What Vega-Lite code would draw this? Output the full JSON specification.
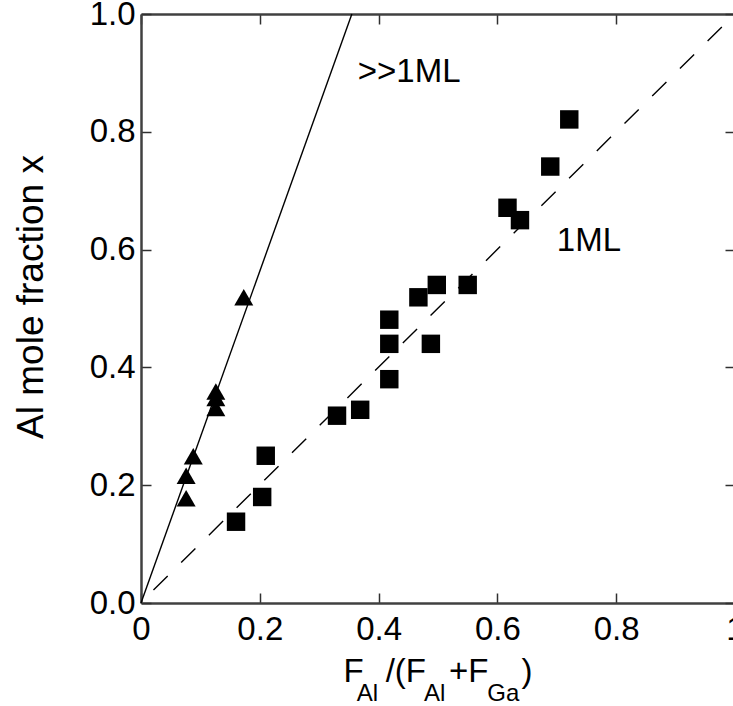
{
  "$schema": "https://vega.github.io/schema/vega-lite/v6.json",
  "width": 594,
  "height": 589,
  "autosize": {"type": "none"},
  "padding": {"left": 141, "top": 14, "right": 0, "bottom": 103},
  "background": "white",
  "config": {
    "view": {"stroke": null},
    "font": "Liberation Sans",
    "axis": {
      "grid": false,
      "domainColor": "#404040",
      "domainWidth": 2.5,
      "tickColor": "#303030",
      "tickWidth": 1.5,
      "tickSize": -10,
      "labelFont": "Liberation Sans",
      "labelFontSize": 33,
      "labelColor": "black",
      "labelFlush": false,
      "labelOverlap": false,
      "titleFont": "Liberation Sans",
      "titleColor": "black",
      "titleFontWeight": "normal"
    }
  },
  "datasets": {
    "squares": [
      {"x": 0.160, "y": 0.138},
      {"x": 0.204, "y": 0.180},
      {"x": 0.210, "y": 0.250},
      {"x": 0.330, "y": 0.318},
      {"x": 0.369, "y": 0.328},
      {"x": 0.418, "y": 0.380},
      {"x": 0.418, "y": 0.440},
      {"x": 0.418, "y": 0.481},
      {"x": 0.488, "y": 0.440},
      {"x": 0.467, "y": 0.519},
      {"x": 0.498, "y": 0.540},
      {"x": 0.550, "y": 0.540},
      {"x": 0.617, "y": 0.671},
      {"x": 0.638, "y": 0.650},
      {"x": 0.689, "y": 0.741},
      {"x": 0.721, "y": 0.821}
    ],
    "triangles": [
      {"x": 0.173, "y": 0.519},
      {"x": 0.126, "y": 0.359},
      {"x": 0.126, "y": 0.348},
      {"x": 0.126, "y": 0.331},
      {"x": 0.088, "y": 0.249},
      {"x": 0.076, "y": 0.216},
      {"x": 0.076, "y": 0.178}
    ],
    "steep": [{"x": 0, "y": 0}, {"x": 0.355, "y": 1}],
    "diag": [{"x": 0.021, "y": 0.022}, {"x": 1, "y": 1}],
    "notes": [
      {"x": 0.365, "y": 0.885, "text": ">>1ML"},
      {"x": 0.700, "y": 0.597, "text": "1ML"}
    ]
  },
  "title": {
    "text": "F\u2002\u2006/(F\u2002\u2009+F\u2003)\u2005",
    "subtitle": "Al\u2003\u2002\u2005\u2006Al\u2003\u2002\u2005Ga",
    "orient": "bottom",
    "anchor": "middle",
    "font": "Liberation Sans",
    "subtitleFont": "Liberation Sans",
    "fontSize": 33,
    "subtitleFontSize": 24,
    "fontWeight": "normal",
    "color": "black",
    "subtitleColor": "black",
    "subtitlePadding": -7,
    "offset": 10
  },
  "resolve": {"axis": {"x": "independent", "y": "independent"}},
  "layer": [
    {
      "data": {"name": "steep"},
      "mark": {"type": "line", "color": "black", "strokeWidth": 1.4},
      "encoding": {
        "x": {
          "field": "x", "type": "quantitative",
          "scale": {"domain": [0, 1], "nice": false, "zero": false},
          "axis": {
            "orient": "bottom",
            "values": [0, 0.2, 0.4, 0.6, 0.8, 1],
            "labelExpr": "datum.value == 0 ? '0' : datum.value == 1 ? '1' : format(datum.value, '.1f')",
            "labelPadding": 20,
            "title": null
          }
        },
        "y": {
          "field": "y", "type": "quantitative",
          "scale": {"domain": [0, 1], "nice": false, "zero": false},
          "axis": {
            "orient": "left",
            "values": [0, 0.2, 0.4, 0.6, 0.8, 1],
            "format": ".1f",
            "labelPadding": 16,
            "title": "Al mole fraction x",
            "titleFontSize": 37,
            "titleX": -99,
            "titleY": 282.5,
            "titleAngle": -90,
            "titleAlign": "center",
            "titleBaseline": "alphabetic"
          }
        }
      }
    },
    {
      "data": {"name": "diag"},
      "mark": {"type": "line", "color": "black", "strokeWidth": 1.4, "strokeDash": [20, 19]},
      "encoding": {
        "x": {
          "field": "x", "type": "quantitative",
          "axis": {"orient": "top", "values": [0, 0.2, 0.4, 0.6, 0.8, 1], "labels": false, "title": null}
        },
        "y": {
          "field": "y", "type": "quantitative",
          "axis": {"orient": "right", "values": [0, 0.2, 0.4, 0.6, 0.8, 1], "labels": false, "title": null}
        }
      }
    },
    {
      "data": {"name": "squares"},
      "mark": {"type": "point", "shape": "square", "filled": true, "color": "black", "opacity": 1, "size": 340, "strokeWidth": 0},
      "encoding": {
        "x": {"field": "x", "type": "quantitative", "axis": null},
        "y": {"field": "y", "type": "quantitative", "axis": null}
      }
    },
    {
      "data": {"name": "triangles"},
      "mark": {"type": "point", "shape": "triangle-up", "filled": true, "color": "black", "opacity": 1, "size": 361, "strokeWidth": 0},
      "encoding": {
        "x": {"field": "x", "type": "quantitative", "axis": null},
        "y": {"field": "y", "type": "quantitative", "axis": null}
      }
    },
    {
      "data": {"name": "notes"},
      "mark": {"type": "text", "align": "left", "baseline": "alphabetic", "fontSize": 33, "font": "Liberation Sans", "color": "black"},
      "encoding": {
        "x": {"field": "x", "type": "quantitative", "axis": null},
        "y": {"field": "y", "type": "quantitative", "axis": null},
        "text": {"field": "text"}
      }
    }
  ]
}
